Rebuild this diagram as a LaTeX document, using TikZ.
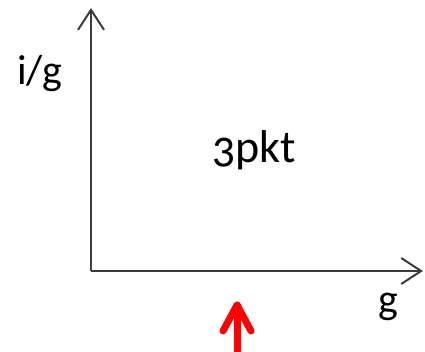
\documentclass[tikz,border=0pt]{standalone}
\usepackage{fontspec}
\setmainfont[Numbers=OldStyle]{Carlito}
\usetikzlibrary{arrows.meta}
\definecolor{axisgray}{HTML}{3C3C3C}
\definecolor{markred}{HTML}{FF0000}
\begin{document}
\begin{tikzpicture}[x=1pt,y=-1pt,
  axis/.style={draw=axisgray,line width=2.2pt,-{Straight Barb[length=20pt,width=26pt,line width=2pt]}},
  lbl/.style={inner sep=0pt,font=\fontsize{42}{42}\selectfont,text=black},
  redmark/.style={draw=markred,line width=7pt,line cap=round,line join=round}]
\useasboundingbox (0,0) rectangle (425,351);
\coordinate (o) at (91,271);
\coordinate (ytop) at (91,8);
\coordinate (xend) at (423,271);
\draw[axis] (o) -- (ytop);
\draw[axis] (o) -- (xend);
\node[lbl,anchor=base west] (ylab) at (17,84) {i/g};
\node[lbl,anchor=base west,font=\fontsize{46}{46}\selectfont] (mid) at (212,162) {3pkt};
\node[lbl,anchor=base west] (xlab) at (378,313) {g};
\coordinate (rb) at (237,351);
\coordinate (rt) at (237,305);
\coordinate (rl) at (223,331);
\coordinate (rr) at (251,331);
\draw[redmark] (rb) -- (rt);
\draw[redmark] (rl) -- (rt) -- (rr);
\end{tikzpicture}
\end{document}
